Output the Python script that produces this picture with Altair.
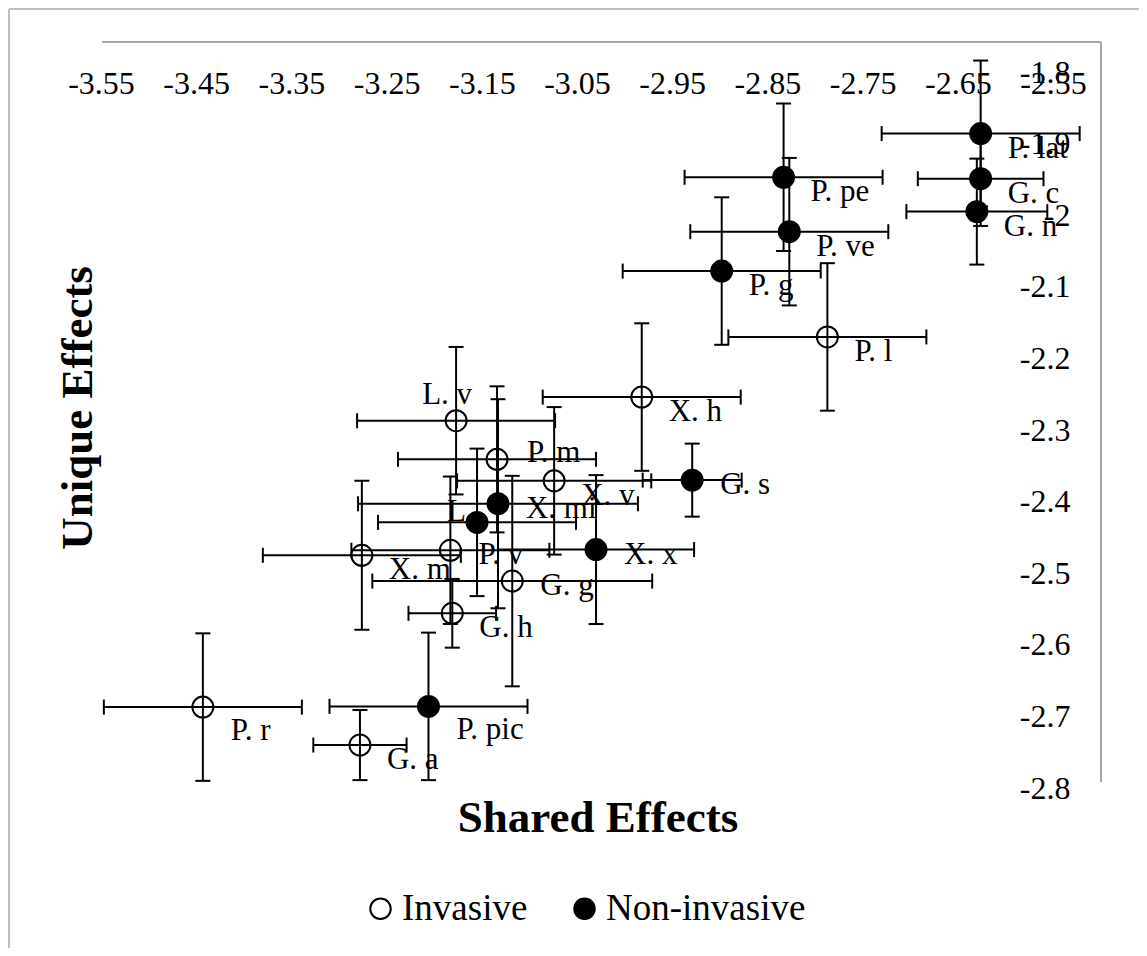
import altair as alt
import pandas as pd

FONT = "Liberation Serif"

# ---------------- data ----------------
species = ["P. l", "X. h", "L. v", "P. m", "X. v", "X. m", "P. v", "G. g", "G. h", "P. r", "G. a",
           "P. lat", "G. c", "G. n", "P. pe", "P. ve", "P. g", "G. s", "X. mi", "L", "X. x", "P. pic"]
status = ["Invasive", "Invasive", "Invasive", "Invasive", "Invasive", "Invasive", "Invasive",
          "Invasive", "Invasive", "Invasive", "Invasive",
          "Non-invasive", "Non-invasive", "Non-invasive", "Non-invasive", "Non-invasive",
          "Non-invasive", "Non-invasive", "Non-invasive", "Non-invasive", "Non-invasive",
          "Non-invasive"]
shared = [-2.787, -2.982, -3.177, -3.134, -3.074, -3.276, -3.183, -3.118, -3.181, -3.443, -3.278,
          -2.626, -2.626, -2.630, -2.833, -2.827, -2.898, -2.929, -3.133, -3.155, -3.030, -3.206]
unique = [-2.170, -2.254, -2.287, -2.341, -2.371, -2.475, -2.468, -2.511, -2.556, -2.687, -2.740,
          -1.886, -1.949, -1.995, -1.947, -2.023, -2.078, -2.370, -2.403, -2.429, -2.467, -2.686]
shared_err = [0.104, 0.104, 0.104, 0.104, 0.102, 0.104, 0.104, 0.147, 0.046, 0.104, 0.049,
              0.104, 0.066, 0.074, 0.104, 0.104, 0.104, 0.052, 0.147, 0.104, 0.103, 0.104]
unique_err = [0.103, 0.103, 0.103, 0.102, 0.103, 0.104, 0.103, 0.147, 0.048, 0.103, 0.049,
              0.102, 0.066, 0.074, 0.103, 0.103, 0.103, 0.051, 0.146, 0.103, 0.104, 0.103]
label_pos = ["below_right", "below_right", "above", "above_right", "below_right", "below_right",
             "right", "right", "below_right", "far_below_right", "below_right",
             "below_right", "below_right", "below_right", "below_right", "below_right",
             "below_right", "right", "right", "left", "right", "far_below_right"]

x_ticks = [-3.55, -3.45, -3.35, -3.25, -3.15, -3.05, -2.95, -2.85, -2.75, -2.65, -2.55]
y_ticks = [-1.8, -1.9, -2.0, -2.1, -2.2, -2.3, -2.4, -2.5, -2.6, -2.7, -2.8]
groups = ["Invasive", "Non-invasive"]

# ---------------- styling ----------------
LABEL_STYLE = {
    "below_right": (27, 15, "left"),
    "right": (28, 5, "left"),
    "far_below_right": (28, 24, "left"),
    "above_right": (30, -6, "left"),
    "above": (-9, -26, "center"),
    "left": (-30, -10, "left"),
}

df = pd.DataFrame({"species": species, "status": status, "shared": shared, "unique": unique,
                   "se_x": shared_err, "se_y": unique_err, "lab": label_pos})

W, H = 952, 716
xs = alt.Scale(domain=[-3.55, -2.55], nice=False, zero=False)
ys = alt.Scale(domain=[-2.8, -1.8], nice=False, zero=False)

x_axis = alt.Axis(orient="top", values=x_ticks, labelExpr="toString(datum.value)", title=None,
                  domain=False, ticks=False, tickSize=0, grid=False, labelPadding=-21,
                  labelBaseline="alphabetic", labelFont=FONT, labelFontSize=32, labelColor="black",
                  labelOverlap=False, labelFlush=False, labelBound=False)
y_axis = alt.Axis(orient="right", values=y_ticks, labelExpr="toString(datum.value)", title=None,
                  domain=False, ticks=False, tickSize=0, grid=False, labelPadding=17,
                  labelAlign="right", labelBaseline="middle", labelFont=FONT, labelFontSize=32,
                  labelColor="black", labelOverlap=False, labelFlush=False, labelBound=False)


def X(field):
    return alt.X(field, scale=xs, axis=x_axis)


def Y(field):
    return alt.Y(field, scale=ys, axis=y_axis)


base = alt.Chart(df)
eb = base.transform_calculate(
    x_lo="datum.shared - datum.se_x", x_hi="datum.shared + datum.se_x",
    y_lo="datum.unique - datum.se_y", y_hi="datum.unique + datum.se_y")

# frame lines (decoration)
one = pd.DataFrame({"a": [0]})
frame_in_top = alt.Chart(one).mark_rule(color="#a6a6a6", strokeWidth=2).encode(
    x=alt.value(1), x2=alt.value(1000), y=alt.value(-30))
frame_in_right = alt.Chart(one).mark_rule(color="#a6a6a6", strokeWidth=2).encode(
    x=alt.value(1000), y=alt.value(-30), y2=alt.value(710))
frame_out_left = alt.Chart(one).mark_rule(color="#bfbfbf", strokeWidth=2).encode(
    x=alt.value(-92), y=alt.value(-63), y2=alt.value(876))
frame_out_top = alt.Chart(one).mark_rule(color="#bfbfbf", strokeWidth=2).encode(
    x=alt.value(-92), x2=alt.value(1046), y=alt.value(-63))

labels = []
for name, (dx, dy, al) in LABEL_STYLE.items():
    labels.append(
        base.transform_filter(alt.datum.lab == name)
        .mark_text(dx=dx, dy=dy, align=al, baseline="middle", font=FONT, fontSize=31, color="black")
        .encode(x=X("shared:Q"), y=Y("unique:Q"), text="species:N"))

h_bar = eb.mark_rule(color="black", strokeWidth=2).encode(x=X("x_lo:Q"), x2="x_hi:Q", y=Y("unique:Q"))
v_bar = eb.mark_rule(color="black", strokeWidth=2).encode(x=X("shared:Q"), y=Y("y_lo:Q"), y2="y_hi:Q")
cap_xl = eb.mark_tick(orient="vertical", size=15, thickness=2, color="black", opacity=1).encode(
    x=X("x_lo:Q"), y=Y("unique:Q"))
cap_xh = eb.mark_tick(orient="vertical", size=15, thickness=2, color="black", opacity=1).encode(
    x=X("x_hi:Q"), y=Y("unique:Q"))
cap_yl = eb.mark_tick(orient="horizontal", size=15, thickness=2, color="black", opacity=1).encode(
    x=X("shared:Q"), y=Y("y_lo:Q"))
cap_yh = eb.mark_tick(orient="horizontal", size=15, thickness=2, color="black", opacity=1).encode(
    x=X("shared:Q"), y=Y("y_hi:Q"))

pts = base.mark_point(shape="circle", stroke="black", strokeWidth=2, opacity=1, size=440).encode(
    x=X("shared:Q"), y=Y("unique:Q"),
    fill=alt.Fill("status:N", scale=alt.Scale(domain=groups, range=["transparent", "black"]),
                  legend=alt.Legend(title=None, orient="none", legendX=261, legendY=818,
                                    direction="horizontal", columns=2, symbolType="circle",
                                    symbolSize=420, symbolStrokeColor="black", symbolStrokeWidth=2,
                                    labelFont=FONT, labelFontSize=37, labelColor="black",
                                    labelOffset=3, labelLimit=500, columnPadding=38, padding=0)),
)

x_title = alt.Chart(pd.DataFrame({"t": ["Shared Effects"]})).mark_text(
    font=FONT, fontSize=45, fontWeight="bold", align="center", baseline="alphabetic", color="black"
).encode(text="t:N", x=alt.value(497), y=alt.value(760))
y_title = alt.Chart(pd.DataFrame({"t": ["Unique Effects"]})).mark_text(
    font=FONT, fontSize=45, fontWeight="bold", align="center", baseline="alphabetic", color="black",
    angle=270
).encode(text="t:N", x=alt.value(-9), y=alt.value(336))

chart = alt.layer(
    frame_out_left, frame_out_top, frame_in_top, frame_in_right,
    *labels, h_bar, v_bar, cap_xl, cap_xh, cap_yl, cap_yh, pts, x_title, y_title
).properties(
    width=W, height=H,
    padding={"left": 93, "top": 64, "right": 86, "bottom": 160},
    autosize=alt.AutoSizeParams(type="none"),
    view=alt.ViewBackground(stroke="transparent", strokeWidth=0, fill="white"),
).configure_view(strokeWidth=0, stroke="transparent").configure_axis(
    domain=False, grid=False
).configure(background="white")

chart.save("out.html", embed_options={"renderer": "svg", "actions": False})
